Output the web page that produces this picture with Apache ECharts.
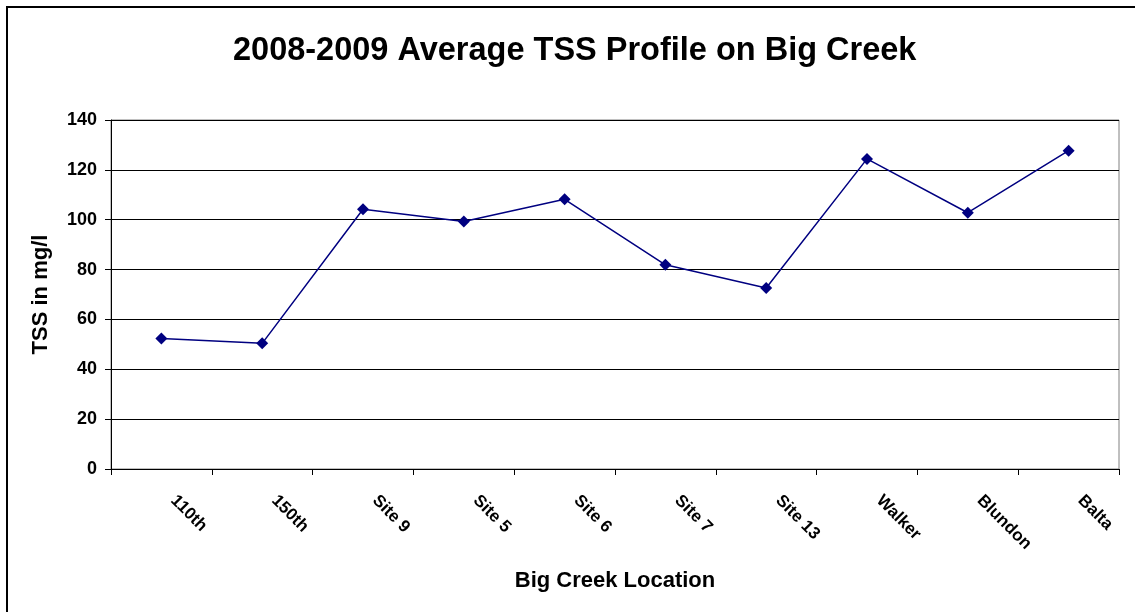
<!DOCTYPE html>
<html>
<head>
<meta charset="utf-8">
<script src="https://cdn.jsdelivr.net/npm/echarts@6/dist/echarts.min.js"></script>
<style>
html,body{margin:0;padding:0;background:#fff;}
#c{width:1135px;height:612px;}
</style>
</head>
<body>
<div id="c"></div>
<script>
const categories = ['110th','150th','Site 9','Site 5','Site 6','Site 7','Site 13','Walker','Blundon','Balta'];
const tssValues = [52.3, 50.4, 104.2, 99.3, 108.2, 81.9, 72.6, 124.4, 102.8, 127.7];
const titleText = '2008-2009 Average TSS Profile on Big Creek';
const yAxisName = 'TSS in mg/l';
const xAxisName = 'Big Creek Location';

const FONT = '"Liberation Sans", Arial, sans-serif';
const chart = echarts.init(document.getElementById('c'), null, {renderer:'canvas'});
chart.setOption({
  animation:false,
  backgroundColor:'#fff',
  title:{
    text:titleText,
    left:228,
    top:30,
    textStyle:{fontFamily:FONT,fontWeight:'bold',fontSize:32.5,color:'#000'}
  },
  graphic:[{
    type:'rect',
    shape:{x:7,y:7,width:1140,height:620},
    style:{fill:'none',stroke:'#000',lineWidth:2},
    silent:true,
    z:-1
  }],
  grid:{left:111,right:16,top:120,bottom:143,show:true,borderColor:'#808080',borderWidth:1,backgroundColor:'transparent'},
  xAxis:{
    type:'category',
    data:categories,
    boundaryGap:true,
    name:xAxisName,
    nameLocation:'middle',
    nameGap:101,
    nameTextStyle:{fontFamily:FONT,fontWeight:'bold',fontSize:22,color:'#000'},
    axisLine:{lineStyle:{color:'#000',width:1}},
    axisTick:{show:true,length:6,interval:0,lineStyle:{color:'#000'}},
    axisLabel:{rotate:-45,interval:0,margin:17,padding:[0,0,0,17],fontFamily:FONT,fontWeight:'bold',fontSize:17,color:'#000'},
    splitLine:{show:false}
  },
  yAxis:{
    type:'value',
    min:0,max:140,interval:20,
    name:yAxisName,
    nameLocation:'middle',
    nameRotate:90,
    nameGap:59,
    nameTextStyle:{fontFamily:FONT,fontWeight:'bold',fontSize:22,color:'#000'},
    axisLine:{show:true,lineStyle:{color:'#000',width:1}},
    axisTick:{show:true,length:6,lineStyle:{color:'#000'}},
    axisLabel:{margin:14,fontFamily:FONT,fontWeight:'bold',fontSize:18,color:'#000'},
    splitLine:{show:true,lineStyle:{color:'#000',width:1}}
  },
  series:[{
    type:'line',
    data:tssValues,
    symbol:'diamond',
    symbolSize:12,
    lineStyle:{color:'#000080',width:1.5},
    itemStyle:{color:'#000080'}
  }]
});
</script>
</body>
</html>
